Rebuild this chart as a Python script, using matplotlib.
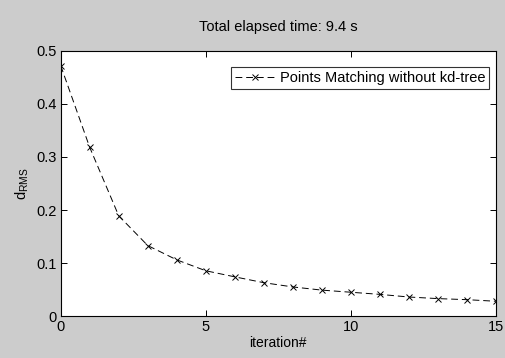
import matplotlib
matplotlib.use("Agg")
import matplotlib.pyplot as plt

# dados
iteracoes = list(range(16))
d_rms = [0.472, 0.318, 0.189, 0.133, 0.106, 0.0855, 0.074, 0.063,
         0.055, 0.049, 0.045, 0.041, 0.036, 0.033, 0.031, 0.028]
x_ticks = [0, 5, 10, 15]
y_ticks = [0, 0.1, 0.2, 0.3, 0.4, 0.5]
y_tick_labels = ['0', '0.1', '0.2', '0.3', '0.4', '0.5']

plt.rcParams['font.family'] = ['Liberation Sans', 'DejaVu Sans']

fig = plt.figure(figsize=(5.06, 3.58), dpi=100, facecolor='#cccccc')
ax = fig.add_axes([0.12, 0.117, 0.86, 0.741])

ax.plot(iteracoes, d_rms, color='black', linestyle=(0, (7, 4)), linewidth=0.7,
        marker='x', markersize=4, markeredgewidth=0.7,
        label='Points Matching without kd-tree')

ax.set_xlim(0, 15)
ax.set_ylim(0, 0.5)
ax.set_xticks(x_ticks)
ax.set_yticks(y_ticks)
ax.set_yticklabels(y_tick_labels)
ax.tick_params(direction='in', top=True, right=True, length=4, width=0.7,
               labelsize=10.5, pad=3)
for s in ax.spines.values():
    s.set_linewidth(0.8)

ax.set_title('Total elapsed time: 9.4 s', fontsize=10.5, pad=14)
ax.set_xlabel('iteration#', fontsize=10, labelpad=1)
ax.set_ylabel('d$_{\\mathregular{RMS}}$', fontsize=10.5, labelpad=4)

leg = ax.legend(loc='upper right', bbox_to_anchor=(0.985, 0.938),
                fontsize=10.5, frameon=True, fancybox=False,
                edgecolor='black', handlelength=2.8, borderpad=0.25,
                borderaxespad=0, handletextpad=0.3)
leg.get_frame().set_linewidth(0.8)

plt.savefig('out.png', dpi=100, facecolor=fig.get_facecolor())
